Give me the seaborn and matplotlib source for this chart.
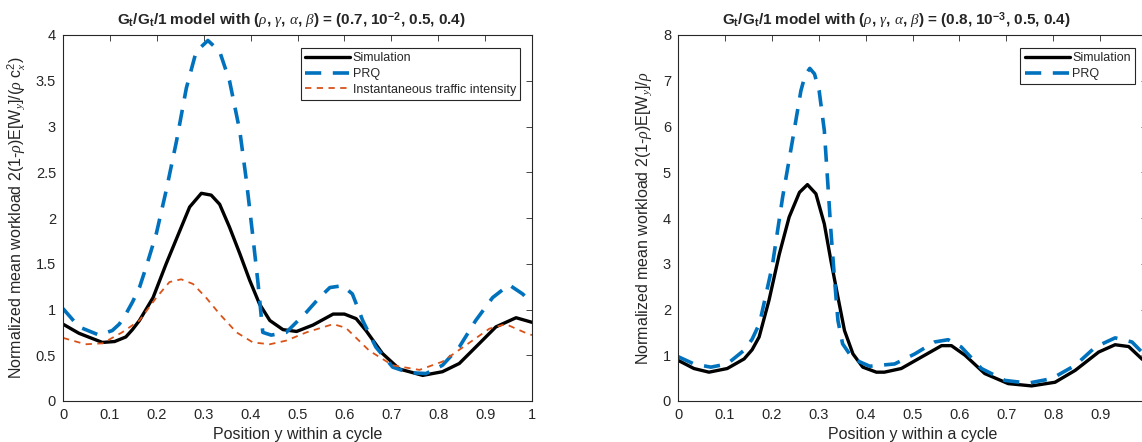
import matplotlib
matplotlib.use("Agg")
import matplotlib.pyplot as plt
import seaborn as sns

# ---------------- data ----------------
# Left panel: (rho, gamma, alpha, beta) = (0.7, 1e-2, 0.5, 0.4)
sim1_x = [0.0, 0.034, 0.084, 0.110, 0.134, 0.148, 0.163, 0.192, 0.220, 0.249, 0.270, 0.295,
          0.316, 0.334, 0.355, 0.377, 0.398, 0.419, 0.441, 0.469, 0.498, 0.533, 0.576,
          0.600, 0.625, 0.646, 0.681, 0.717, 0.767, 0.809, 0.845, 0.888, 0.923, 0.966, 1.0]
sim1_y = [0.84, 0.74, 0.64, 0.65, 0.70, 0.78, 0.88, 1.13, 1.50, 1.86, 2.12, 2.27,
          2.25, 2.15, 1.90, 1.61, 1.32, 1.06, 0.88, 0.78, 0.76, 0.83, 0.95,
          0.95, 0.90, 0.77, 0.52, 0.35, 0.28, 0.32, 0.41, 0.63, 0.81, 0.91, 0.86]

prq1_x = [0.0, 0.034, 0.077, 0.105, 0.120, 0.134, 0.148, 0.163, 0.177, 0.199, 0.220, 0.242,
          0.263, 0.284, 0.309, 0.334, 0.355, 0.377, 0.391, 0.405, 0.416, 0.426, 0.444,
          0.476, 0.519, 0.545, 0.569, 0.596, 0.617, 0.639, 0.667, 0.703, 0.738, 0.774,
          0.809, 0.845, 0.880, 0.916, 0.951, 0.980, 1.0]
prq1_y = [1.01, 0.81, 0.72, 0.77, 0.84, 0.95, 1.08, 1.24, 1.46, 1.83, 2.30, 2.84,
          3.42, 3.82, 3.94, 3.82, 3.50, 2.95, 2.41, 1.79, 1.28, 0.75, 0.72,
          0.75, 0.97, 1.12, 1.24, 1.26, 1.17, 0.88, 0.59, 0.37, 0.31, 0.30,
          0.39, 0.59, 0.88, 1.13, 1.27, 1.17, 1.07]

rho1_x = [0.0, 0.048, 0.084, 0.126, 0.163, 0.199, 0.227, 0.252, 0.277, 0.305, 0.334, 0.370,
          0.405, 0.441, 0.476, 0.519, 0.576, 0.603, 0.653, 0.703, 0.760, 0.809, 0.859,
          0.909, 0.944, 0.984, 1.0]
rho1_y = [0.69, 0.62, 0.63, 0.75, 0.88, 1.13, 1.30, 1.33, 1.28, 1.13, 0.95, 0.75,
          0.64, 0.62, 0.66, 0.75, 0.84, 0.80, 0.55, 0.39, 0.34, 0.43, 0.61,
          0.79, 0.84, 0.75, 0.72]

# Right panel: (rho, gamma, alpha, beta) = (0.8, 1e-3, 0.5, 0.4)
sim2_x = [0.0, 0.034, 0.066, 0.105, 0.141, 0.158, 0.173, 0.194, 0.216, 0.237, 0.259, 0.276,
          0.294, 0.312, 0.326, 0.341, 0.355, 0.373, 0.394, 0.423, 0.440, 0.476, 0.519,
          0.562, 0.583, 0.612, 0.654, 0.704, 0.754, 0.804, 0.847, 0.897, 0.932, 0.961,
          0.989, 1.0]
sim2_y = [0.89, 0.71, 0.63, 0.71, 0.92, 1.12, 1.40, 2.20, 3.21, 4.02, 4.56, 4.73,
          4.53, 3.87, 3.07, 2.27, 1.54, 1.03, 0.74, 0.63, 0.63, 0.71, 0.96,
          1.21, 1.21, 1.00, 0.60, 0.38, 0.33, 0.41, 0.67, 1.07, 1.23, 1.19,
          0.92, 0.84]

prq2_x = [0.0, 0.034, 0.070, 0.105, 0.141, 0.158, 0.174, 0.201, 0.223, 0.244, 0.262, 0.271,
          0.281, 0.291, 0.301, 0.312, 0.319, 0.326, 0.334, 0.341, 0.351, 0.373, 0.409,
          0.462, 0.505, 0.547, 0.576, 0.604, 0.647, 0.697, 0.747, 0.797, 0.847, 0.890,
          0.932, 0.968, 0.989, 1.0]
prq2_y = [0.97, 0.81, 0.74, 0.81, 1.11, 1.35, 1.70, 2.95, 4.45, 5.69, 6.78, 7.12,
          7.27, 7.15, 6.78, 5.91, 4.82, 3.72, 2.63, 1.76, 1.25, 0.92, 0.76,
          0.81, 1.03, 1.29, 1.34, 1.18, 0.71, 0.45, 0.39, 0.49, 0.78, 1.18,
          1.38, 1.29, 1.07, 0.98]

x_ticks = [0, 0.1, 0.2, 0.3, 0.4, 0.5, 0.6, 0.7, 0.8, 0.9, 1]
x_tick_labels = ["0", "0.1", "0.2", "0.3", "0.4", "0.5", "0.6", "0.7", "0.8", "0.9", "1"]
y1_ticks = [0, 0.5, 1, 1.5, 2, 2.5, 3, 3.5, 4]
y1_tick_labels = ["0", "0.5", "1", "1.5", "2", "2.5", "3", "3.5", "4"]
y2_ticks = [0, 1, 2, 3, 4, 5, 6, 7, 8]
y2_tick_labels = ["0", "1", "2", "3", "4", "5", "6", "7", "8"]

labels = ["Simulation", "PRQ", "Instantaneous traffic intensity"]
titles = [r"G$_\mathregular{t}$/G$_\mathregular{t}$/1 model with ($\rho$, $\gamma$, $\alpha$, $\beta$) = (0.7, 10$^{\mathregular{-2}}$, 0.5, 0.4)",
          r"G$_\mathregular{t}$/G$_\mathregular{t}$/1 model with ($\rho$, $\gamma$, $\alpha$, $\beta$) = (0.8, 10$^{\mathregular{-3}}$, 0.5, 0.4)"]
ylabels = [r"Normalized mean workload 2(1-$\rho$)E[W$_y$]/($\rho$ c$_x^2$)",
           r"Normalized mean workload 2(1-$\rho$)E[W$_y$]/$\rho$"]
xlabel = "Position y within a cycle"

# ---------------- style ----------------
sns.set_style("white")
plt.rcParams["font.family"] = ["Liberation Sans", "DejaVu Sans"]
plt.rcParams["mathtext.fontset"] = "custom"
plt.rcParams["mathtext.rm"] = "Liberation Sans"
plt.rcParams["mathtext.it"] = "Liberation Serif:italic"
plt.rcParams["mathtext.bf"] = "Liberation Sans:bold"

BLUE = "#0072BD"
ORANGE = "#D95319"
AX_COL = "#262626"

fig = plt.figure(figsize=(11.42, 4.42), dpi=100)
ax1 = fig.add_axes([63 / 1142, 41 / 442, 469 / 1142, 366 / 442])
ax2 = fig.add_axes([678 / 1142, 41 / 442, 469 / 1142, 366 / 442])


def style_axes(ax, yticks, yticklabels, ymax):
    ax.set_xlim(0, 1)
    ax.set_ylim(0, ymax)
    ax.set_xticks(x_ticks)
    ax.set_xticklabels(x_tick_labels)
    ax.set_yticks(yticks)
    ax.set_yticklabels(yticklabels)
    ax.tick_params(direction="in", top=True, right=True, length=4, width=0.6,
                   colors=AX_COL, labelsize=10.5, pad=5)
    for s in ax.spines.values():
        s.set_color(AX_COL)
        s.set_linewidth(0.8)
    ax.set_xlabel(xlabel, fontsize=11.5, color=AX_COL, labelpad=4)


# left panel
sns.lineplot(x=sim1_x, y=sim1_y, ax=ax1, color="black", linewidth=2.4, label=labels[0],
             estimator=None, sort=False)
sns.lineplot(x=prq1_x, y=prq1_y, ax=ax1, color=BLUE, linewidth=2.6, linestyle=(0, (4.5, 3.2)),
             label=labels[1], estimator=None, sort=False)
sns.lineplot(x=rho1_x, y=rho1_y, ax=ax1, color=ORANGE, linewidth=1.3, linestyle=(0, (3.5, 3)),
             label=labels[2], estimator=None, sort=False)
style_axes(ax1, y1_ticks, y1_tick_labels, 4)
ax1.set_ylabel(ylabels[0], fontsize=11.5, color=AX_COL, labelpad=6)
ax1.set_title(titles[0], fontsize=11, fontweight="bold", pad=7)
ax1.title.set_position((0.5 - 6 / 469, 1.0))

# right panel
sns.lineplot(x=sim2_x, y=sim2_y, ax=ax2, color="black", linewidth=2.4, label=labels[0],
             estimator=None, sort=False)
sns.lineplot(x=prq2_x, y=prq2_y, ax=ax2, color=BLUE, linewidth=2.6, linestyle=(0, (4.5, 3.2)),
             label=labels[1], estimator=None, sort=False)
style_axes(ax2, y2_ticks, y2_tick_labels, 8)
ax2.set_ylabel(ylabels[1], fontsize=11.5, color=AX_COL, labelpad=6)
ax2.set_title(titles[1], fontsize=11, fontweight="bold", pad=7)
ax2.title.set_position((0.465, 1.0))

for ax, anchor in ((ax1, (0.975, 0.965)), (ax2, (0.975, 0.965))):
    leg = ax.legend(loc="upper right", bbox_to_anchor=anchor, fontsize=9, frameon=True,
                    fancybox=False, edgecolor=AX_COL, framealpha=1, handlelength=3.6,
                    handletextpad=0.2, borderpad=0.35, labelspacing=0.3, borderaxespad=0)
    leg.get_frame().set_linewidth(0.8)

fig.savefig("out.png", dpi=100)
